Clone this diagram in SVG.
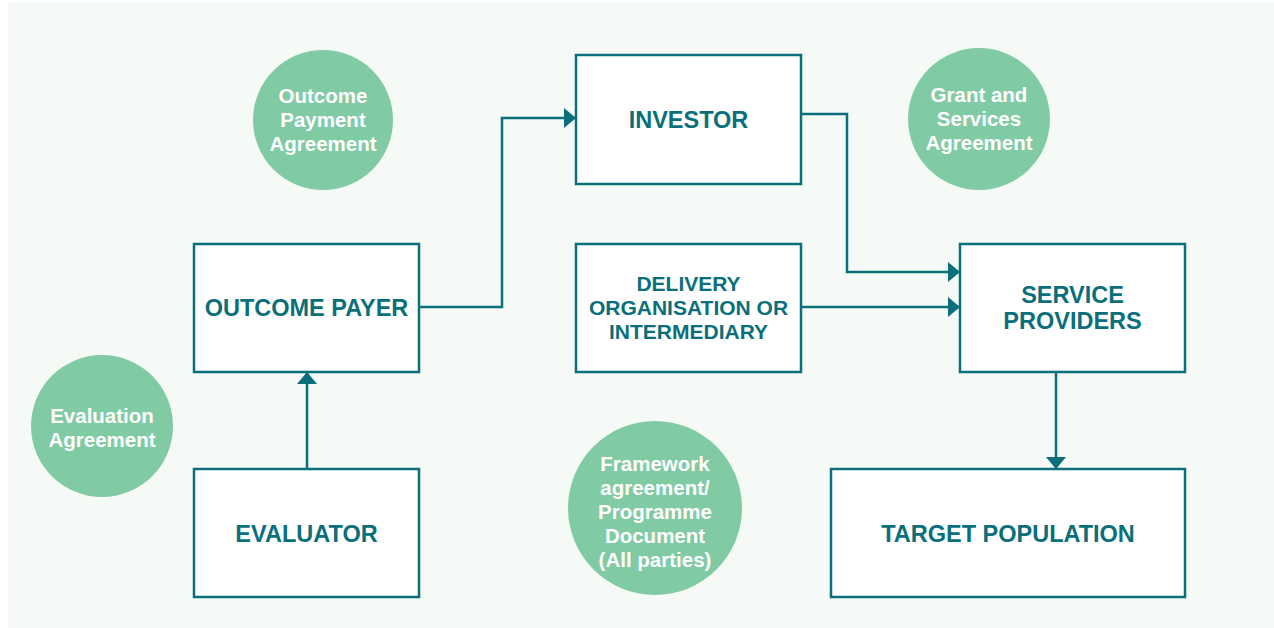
<svg xmlns="http://www.w3.org/2000/svg" width="1274" height="628" viewBox="0 0 1274 628">
<defs>
<style>
.box{fill:#ffffff;stroke:#0b6f7b;stroke-width:2.5}
.bt{font-family:"Liberation Sans",Arial,sans-serif;font-weight:bold;font-size:23.5px;fill:#0b6f7b;text-anchor:middle}
.bt2{font-family:"Liberation Sans",Arial,sans-serif;font-weight:bold;font-size:21px;fill:#0b6f7b;text-anchor:middle}
.circ{fill:#80cba4}
.ct{font-family:"Liberation Sans",Arial,sans-serif;font-weight:bold;font-size:20.5px;fill:#ffffff;text-anchor:middle}
.con{fill:none;stroke:#0b6f7b;stroke-width:2.5}
</style>
<marker id="ah" viewBox="0 0 12 20" refX="12" refY="10" markerWidth="12" markerHeight="20" markerUnits="userSpaceOnUse" orient="auto">
<path d="M0,0 L12,10 L0,20 Z" fill="#0b6f7b"/>
</marker>
</defs>
<rect x="8" y="3" width="1266" height="625" fill="#f5faf7"/>
<g id="c-outcome-payment">
<circle class="circ" cx="323" cy="120" r="70"/>
<text class="ct" x="323" y="103">Outcome</text>
<text class="ct" x="323" y="127">Payment</text>
<text class="ct" x="323" y="151">Agreement</text>
</g>
<g id="c-grant">
<circle class="circ" cx="979" cy="119" r="71"/>
<text class="ct" x="979" y="102">Grant and</text>
<text class="ct" x="979" y="126">Services</text>
<text class="ct" x="979" y="150">Agreement</text>
</g>
<g id="c-evaluation">
<circle class="circ" cx="102" cy="426" r="71"/>
<text class="ct" x="102" y="423">Evaluation</text>
<text class="ct" x="102" y="447">Agreement</text>
</g>
<g id="c-framework">
<circle class="circ" cx="655" cy="508" r="87"/>
<text class="ct" x="655" y="471">Framework</text>
<text class="ct" x="655" y="495">agreement/</text>
<text class="ct" x="655" y="519">Programme</text>
<text class="ct" x="655" y="543">Document</text>
<text class="ct" x="655" y="567">(All parties)</text>
</g>
<g id="connectors">
<path class="con" d="M419,307 H502 V118 H576" marker-end="url(#ah)"/>
<path class="con" d="M801,114 H847 V272 H960" marker-end="url(#ah)"/>
<path class="con" d="M801,307 H960" marker-end="url(#ah)"/>
<path class="con" d="M1056,372 V469" marker-end="url(#ah)"/>
<path class="con" d="M307,469 V372" marker-end="url(#ah)"/>
</g>
<g id="n-investor">
<rect class="box" x="576" y="55" width="225" height="129"/>
<text class="bt" x="688.5" y="128">INVESTOR</text>
</g>
<g id="n-outcome-payer">
<rect class="box" x="194" y="244" width="225" height="128"/>
<text class="bt" x="306.5" y="316">OUTCOME PAYER</text>
</g>
<g id="n-delivery">
<rect class="box" x="576" y="244" width="225" height="128"/>
<text class="bt2" x="688.5" y="291">DELIVERY</text>
<text class="bt2" x="688.5" y="315">ORGANISATION OR</text>
<text class="bt2" x="688.5" y="339">INTERMEDIARY</text>
</g>
<g id="n-service">
<rect class="box" x="960" y="244" width="225" height="128"/>
<text class="bt" x="1072.5" y="303">SERVICE</text>
<text class="bt" x="1072.5" y="329">PROVIDERS</text>
</g>
<g id="n-evaluator">
<rect class="box" x="194" y="469" width="225" height="128"/>
<text class="bt" x="306.5" y="542">EVALUATOR</text>
</g>
<g id="n-target">
<rect class="box" x="831" y="469" width="354" height="128"/>
<text class="bt" x="1008" y="542">TARGET POPULATION</text>
</g>
</svg>
